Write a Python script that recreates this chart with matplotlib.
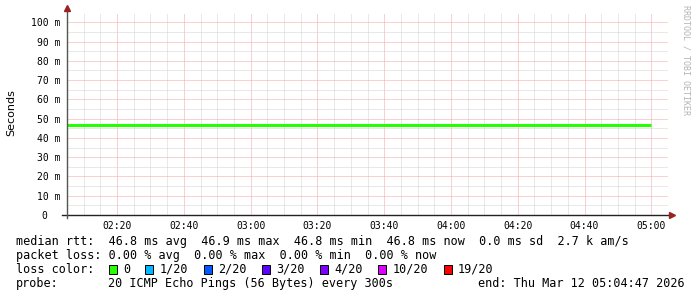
import datetime as dt
import matplotlib
matplotlib.use("Agg")
import matplotlib.pyplot as plt
import matplotlib.dates as mdates
import matplotlib.ticker as mticker
from matplotlib.patches import Rectangle

# ---- data ----
day = "2026-03-12"
t_start = "02:05"
t_end = "05:05"
sample_times = ["02:05", "02:10", "02:15", "02:20", "02:25", "02:30",
                "02:35", "02:40", "02:45", "02:50", "02:55", "03:00",
                "03:05", "03:10", "03:15", "03:20", "03:25", "03:30",
                "03:35", "03:40", "03:45", "03:50", "03:55", "04:00",
                "04:05", "04:10", "04:15", "04:20", "04:25", "04:30",
                "04:35", "04:40", "04:45", "04:50", "04:55", "05:00"]
median_ms = [46.8, 46.8, 46.8, 46.8, 46.8, 46.8,
             46.8, 46.8, 46.8, 46.8, 46.8, 46.8,
             46.8, 46.8, 46.8, 46.8, 46.8, 46.8,
             46.8, 46.8, 46.8, 46.8, 46.8, 46.8,
             46.8, 46.8, 46.8, 46.8, 46.8, 46.8,
             46.8, 46.8, 46.8, 46.8, 46.8, 46.8]

rtt_line = "median rtt:  46.8 ms avg  46.9 ms max  46.8 ms min  46.8 ms now  0.0 ms sd  2.7 k am/s"
loss_line = "packet loss: 0.00 % avg  0.00 % max  0.00 % min  0.00 % now"
loss_labels = ["0", "1/20", "2/20", "3/20", "4/20", "10/20", "19/20"]
loss_colors = ["#26ff00", "#00b8ff", "#0059ff", "#5e00ff", "#7e00ff", "#dd00ff", "#ff0000"]
probe_text = "20 ICMP Echo Pings (56 Bytes) every 300s"
end_text = "end: Thu Mar 12 05:04:47 2026"


def to_dt(hm):
    return dt.datetime.strptime(day + " " + hm, "%Y-%m-%d %H:%M")


W, H = 697, 297
fig = plt.figure(figsize=(W / 100, H / 100), dpi=100)
fig.patch.set_facecolor("white")

# plot area in pixels: x 67..668, y 13..215
L, R, T, B = 67, 668, 13, 215
ax = fig.add_axes([L / W, 1 - B / H, (R - L) / W, (B - T) / H])
ax.set_facecolor("white")

times = [to_dt(s) for s in sample_times]
ax.plot(times, median_ms, color="#26ff00", lw=2.2, drawstyle="steps-post",
        solid_capstyle="butt", zorder=3)

ax.set_xlim(to_dt(t_start), to_dt(t_end))
ax.set_ylim(0, 104.8)

ax.xaxis.set_major_locator(mdates.MinuteLocator(byminute=[0, 20, 40]))
ax.xaxis.set_minor_locator(mdates.MinuteLocator(byminute=range(0, 60, 5)))
ax.xaxis.set_major_formatter(mdates.DateFormatter("%H:%M"))
ax.yaxis.set_major_locator(mticker.FixedLocator(range(0, 101, 10)))
ax.yaxis.set_minor_locator(mticker.MultipleLocator(5))
ax.yaxis.set_major_formatter(
    mticker.FuncFormatter(lambda v, p: "0  " if v == 0 else "%d m" % v))

dots = (0, (1, 1))
ax.set_axisbelow(True)
ax.grid(which="minor", color="#d2d2d2", ls=dots, lw=0.72)
ax.grid(which="major", color="#f4a4a4", ls=dots, lw=0.72)

ax.tick_params(which="both", length=0)
ax.tick_params(axis="y", pad=5)
ax.tick_params(axis="x", pad=4)
for lab in ax.get_xticklabels() + ax.get_yticklabels():
    lab.set_fontfamily("DejaVu Sans Mono")
    lab.set_fontsize(7)
for s in ax.spines.values():
    s.set_visible(False)

# axes with arrows (rrdtool style)
aw, ah = R - L, B - T
ax.plot([-5 / aw, 1 + 3 / aw], [0, 0], color="#222222", lw=1.0,
        transform=ax.transAxes, clip_on=False, zorder=4)
ax.plot([0, 0], [-3 / ah, 1 + 3 / ah], color="#555555", lw=1.0,
        transform=ax.transAxes, clip_on=False, zorder=4)
ax.plot([1 + 4 / aw], [0], marker=">", ms=4, color="#992222", mec="#992222",
        transform=ax.transAxes, clip_on=False, zorder=5)
ax.plot([0], [1 + 5 / ah], marker="^", ms=4, color="#992222", mec="#992222",
        transform=ax.transAxes, clip_on=False, zorder=5)

fig.text(11 / W, 1 - 113 / H, "Seconds", rotation=90, ha="center", va="center",
         fontsize=8, family="DejaVu Sans")
fig.text(686 / W, 1 - 5 / H, "RRDTOOL / TOBI OETIKER", rotation=270,
         ha="center", va="top", fontsize=6, family="DejaVu Sans Mono",
         color="#b4b4b4")

# legend block
mono = dict(family="DejaVu Sans Mono", fontsize=8.5, va="baseline", ha="left")
cw = 7.1
fig.text(16 / W, 1 - 245 / H, rtt_line, **mono)
fig.text(16 / W, 1 - 259 / H, loss_line, **mono)
fig.text(16 / W, 1 - 273 / H, "loss color:", **mono)
fig.text(16 / W, 1 - 287 / H, "probe:", **mono)
fig.text((16 + 13 * cw) / W, 1 - 287 / H, probe_text, **mono)
fig.text(478 / W, 1 - 287 / H, end_text, **mono)

x = 108.5
for lab, col in zip(loss_labels, loss_colors):
    fig.patches.append(Rectangle((x / W, 1 - 273.5 / H), 8 / W, 8.5 / H,
                                 transform=fig.transFigure, facecolor=col,
                                 edgecolor="black", lw=0.7))
    fig.text((x + 14.5) / W, 1 - 273 / H, lab, **mono)
    x += 14.5 + len(lab) * cw + 15.3

fig.savefig("out.png", dpi=100)
